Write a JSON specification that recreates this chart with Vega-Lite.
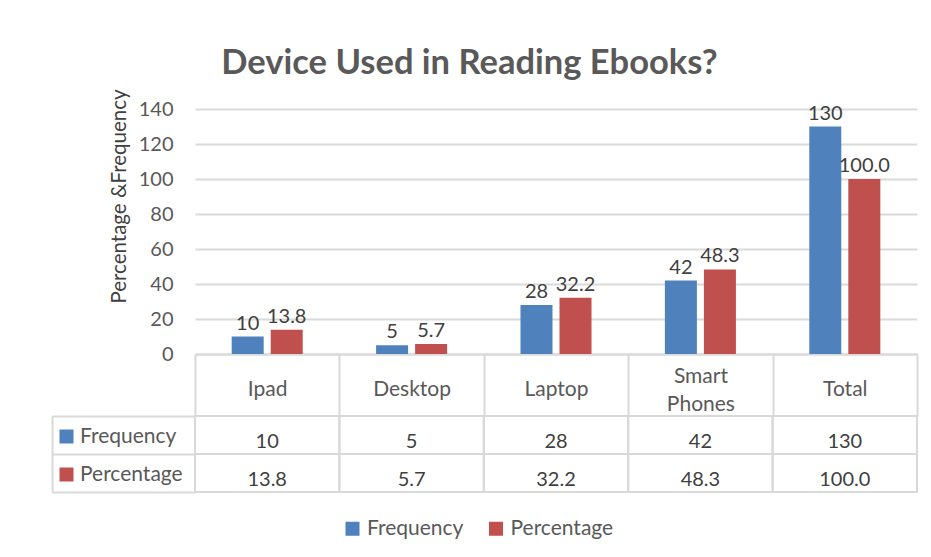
{
  "$schema": "https://vega.github.io/schema/vega-lite/v6.json",
  "background": "white",
  "padding": {"left": 51, "top": 46, "right": 10, "bottom": 10},
  "config": {"view": {"stroke": null}, "font": "Lato"},
  "title": {"text": "Device Used in Reading Ebooks?", "font": "Lato", "fontSize": 34.5, "fontWeight": "bold", "color": "#595959", "anchor": "middle", "offset": 7, "dx": -15},
  "datasets": {
    "main": [
      {"device": "Ipad", "series": "Frequency", "value": 10, "label": "10"},
      {"device": "Ipad", "series": "Percentage", "value": 13.8, "label": "13.8"},
      {"device": "Desktop", "series": "Frequency", "value": 5, "label": "5"},
      {"device": "Desktop", "series": "Percentage", "value": 5.7, "label": "5.7"},
      {"device": "Laptop", "series": "Frequency", "value": 28, "label": "28"},
      {"device": "Laptop", "series": "Percentage", "value": 32.2, "label": "32.2"},
      {"device": "Smart Phones", "series": "Frequency", "value": 42, "label": "42"},
      {"device": "Smart Phones", "series": "Percentage", "value": 48.3, "label": "48.3"},
      {"device": "Total", "series": "Frequency", "value": 130, "label": "130"},
      {"device": "Total", "series": "Percentage", "value": 100.0, "label": "100.0"}
    ]
  },
  "spacing": 62,
  "bounds": "flush",
  "vconcat": [
    {
      "width": 722,
      "height": 245,
      "data": {"name": "main"},
      "encoding": {
        "x": {
          "field": "device", "type": "nominal",
          "sort": ["Ipad", "Desktop", "Laptop", "Smart Phones", "Total"],
          "scale": {"paddingInner": 0, "paddingOuter": 0},
          "axis": {
            "title": null, "tickBand": "extent", "tickSize": 62, "tickColor": "#d9d9d9", "tickWidth": 2,
            "domainColor": "#d9d9d9", "domainWidth": 2, "labelAngle": 0,
            "labelPadding": {"condition": {"test": "datum.value == 'Smart Phones'", "value": -40}, "value": -27},
            "labelBaseline": "middle", "labelFontSize": 21, "labelColor": "#595959", "labelLineHeight": 28,
            "labelExpr": "datum.value == 'Smart Phones' ? ['Smart', 'Phones'] : datum.value"
          }
        },
        "xOffset": {
          "field": "series", "type": "nominal", "sort": ["Frequency", "Percentage"],
          "scale": {"paddingInner": 0.18, "paddingOuter": 0.94}
        },
        "y": {
          "field": "value", "type": "quantitative",
          "scale": {"domain": [0, 140], "nice": false},
          "axis": {
            "title": "Percentage &Frequency", "values": [0, 20, 40, 60, 80, 100, 120, 140],
            "grid": true, "gridColor": "#d9d9d9", "gridWidth": 2, "domain": false, "ticks": false,
            "labelFontSize": 20, "labelColor": "#595959", "labelPadding": 22,
            "titleFontSize": 20.5, "titleFontWeight": "normal", "titleColor": "#404040", "titlePadding": 9, "titleY": 87
          }
        }
      },
      "layer": [
        {
          "mark": {"type": "bar"},
          "encoding": {
            "color": {
              "field": "series", "type": "nominal", "sort": ["Frequency", "Percentage"],
              "scale": {"range": ["#4F81BD", "#C0504D"]},
              "legend": {
                "title": null, "orient": "none", "legendX": -139, "legendY": 317, "direction": "vertical",
                "symbolType": "square", "symbolSize": 196, "symbolStrokeWidth": 0, "labelFontSize": 21, "labelColor": "#595959",
                "labelOffset": 3, "rowPadding": 16, "padding": 0
              }
            }
          }
        },
        {
          "mark": {"type": "text", "baseline": "bottom", "dy": -3, "fontSize": 20, "color": "#404040"},
          "encoding": {"text": {"field": "label"}}
        }
      ]
    },
    {
      "width": 722,
      "height": 76,
      "data": {"name": "main"},
      "encoding": {
        "x": {
          "field": "device", "type": "nominal",
          "sort": ["Ipad", "Desktop", "Laptop", "Smart Phones", "Total"],
          "scale": {"paddingInner": 0, "paddingOuter": 0},
          "axis": null
        },
        "y": {
          "field": "series", "type": "nominal", "sort": ["Frequency", "Percentage"],
          "scale": {"paddingInner": 0, "paddingOuter": 0},
          "axis": {
            "title": null, "labels": false, "tickBand": "extent", "offset": 143, "tickSize": -143,
            "tickColor": "#d9d9d9", "tickWidth": 2, "domainColor": "#d9d9d9", "domainWidth": 2
          }
        }
      },
      "layer": [
        {
          "mark": {"type": "rect", "fillOpacity": 0, "stroke": "#d9d9d9", "strokeWidth": 2},
          "encoding": {
            "fill": {
              "field": "series", "type": "nominal", "sort": ["Frequency", "Percentage"],
              "scale": {"range": ["#4F81BD", "#C0504D"]},
              "legend": {
                "title": null, "orient": "none", "legendX": 147, "legendY": 409, "direction": "horizontal",
                "symbolType": "square", "symbolSize": 196, "symbolOpacity": 1, "symbolStrokeWidth": 0,
                "labelFontSize": 21, "labelColor": "#595959", "labelOffset": 4, "columnPadding": 21.5, "padding": 0
              }
            }
          }
        },
        {
          "mark": {"type": "text", "fontSize": 20, "dy": 7, "color": "#404040"},
          "encoding": {"text": {"field": "label"}}
        }
      ]
    }
  ]
}
